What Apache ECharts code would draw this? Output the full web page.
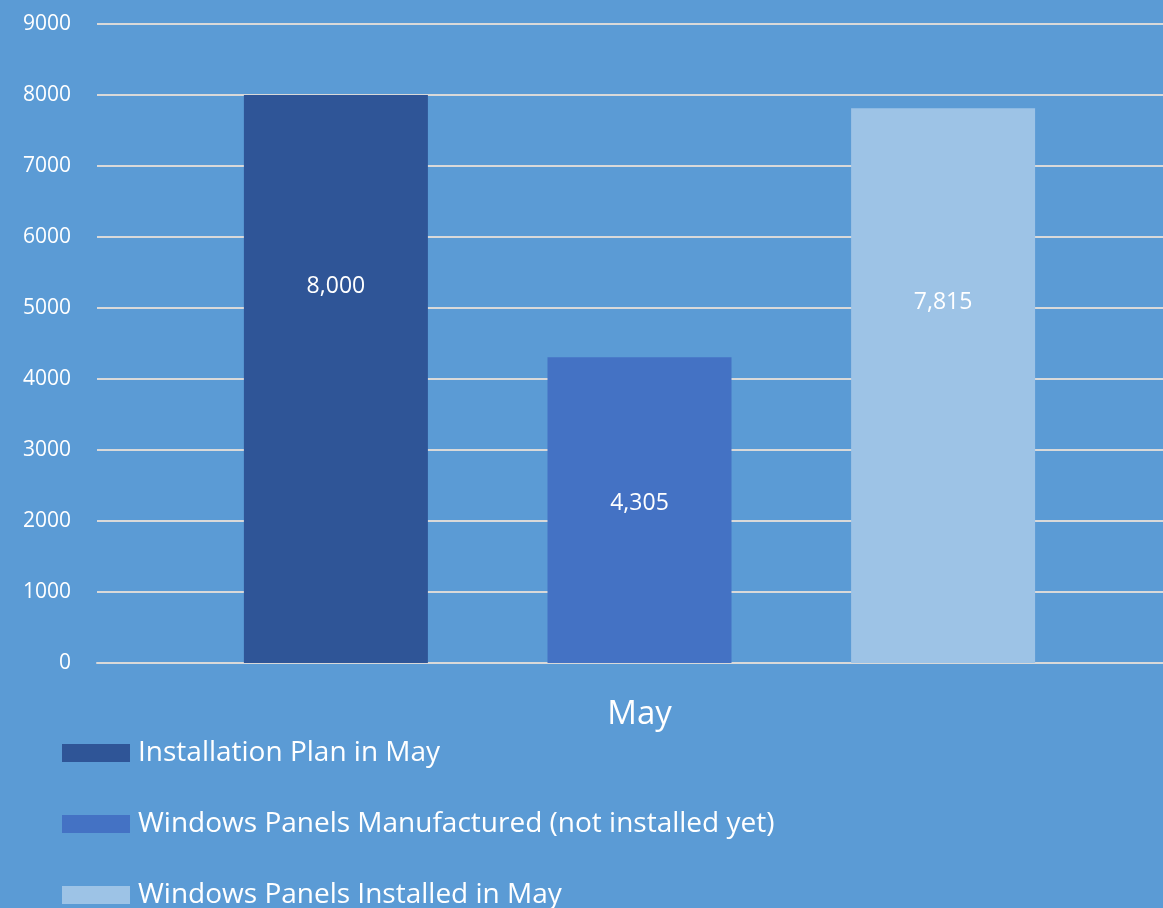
<!DOCTYPE html>
<html>
<head>
<meta charset="utf-8">
<script src="https://cdn.jsdelivr.net/npm/echarts@6/dist/echarts.min.js"></script>
<style>
  html, body { margin: 0; padding: 0; background: #5b9bd5; overflow: hidden; }
  #chart { width: 1182px; height: 940px; }
</style>
</head>
<body>
<div id="chart"></div>
<script>
// data
const categories = ['May'];
const seriesNames = [
  'Installation Plan in May',
  'Windows Panels Manufactured (not installed yet)',
  'Windows Panels Installed in May'
];
const planValues = [8000];
const manufacturedValues = [4305];
const installedValues = [7815];

const colors = ['#2f5597', '#4472c4', '#9dc3e6'];
const labelOffsets = [[0, -93], [0, -7], [0, -83]];
const font = '"Open Sans", sans-serif';

let chart = echarts.init(document.getElementById('chart'));

function makeSeries(name, values, idx) {
  return {
    name: name,
    type: 'bar',
    data: values,
    barWidth: 184,
    barGap: '65%',
    itemStyle: { color: colors[idx] },
    label: {
      show: true,
      position: 'inside',
      offset: labelOffsets[idx],
      color: '#fff',
      fontFamily: font,
      fontSize: 23,
      formatter: p => p.value.toLocaleString('en-US')
    }
  };
}

let option = {
  backgroundColor: '#5b9bd5',
  animation: false,
  // plot area runs past the right edge of the window, as in the original
  grid: { left: 97, top: 24, right: 0, height: 639, containLabel: false },
  legend: {
    orient: 'vertical',
    left: 62,
    top: 737,
    height: 200,
    padding: 0,
    icon: 'rect',
    itemWidth: 68,
    itemHeight: 18,
    itemGap: 39,
    textStyle: { color: '#fff', fontFamily: font, fontSize: 28, lineHeight: 32, padding: [0, 0, 0, 3] },
    data: seriesNames
  },
  xAxis: {
    type: 'category',
    data: categories,
    axisLine: { lineStyle: { color: '#d9d9d9', width: 2 } },
    axisTick: { show: false },
    axisLabel: { color: '#fff', fontFamily: font, fontSize: 33, margin: 35 }
  },
  yAxis: {
    type: 'value',
    min: 0,
    max: 9000,
    interval: 1000,
    axisLine: { show: false },
    axisTick: { show: false },
    axisLabel: { color: '#fff', fontFamily: font, fontSize: 21, margin: 26, formatter: v => String(v) },
    splitLine: { lineStyle: { color: '#d9d9d9', width: 2 } }
  },
  series: [
    makeSeries(seriesNames[0], planValues, 0),
    makeSeries(seriesNames[1], manufacturedValues, 1),
    makeSeries(seriesNames[2], installedValues, 2)
  ]
};

chart.setOption(option);
</script>
</body>
</html>
